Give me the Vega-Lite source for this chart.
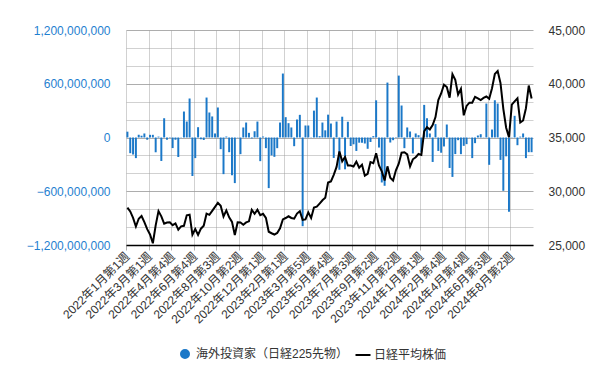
{
"$schema": "https://vega.github.io/schema/vega-lite/v6.json",
"width": 407, "height": 215,
"autosize": {"type": "none"},
"padding": {"left": 126, "top": 30, "right": 82, "bottom": 135},
"background": "white",
"config": {"font": "Liberation Sans, Noto Sans CJK JP, sans-serif", "view": {"stroke": null}},
"data": {"values": [
{"w":"2022年1月第1週","f":65000000,"n":28478},
{"w":"2022年1月第2週","f":-175000000,"n":28124},
{"w":"2022年1月第3週","f":-190000000,"n":27522},
{"w":"2022年1月第4週","f":-230000000,"n":26717},
{"w":"2022年2月第1週","f":30000000,"n":27440},
{"w":"2022年2月第2週","f":20000000,"n":27696},
{"w":"2022年2月第3週","f":45000000,"n":27122},
{"w":"2022年2月第4週","f":-25000000,"n":26476},
{"w":"2022年3月第1週","f":30000000,"n":25985},
{"w":"2022年3月第2週","f":30000000,"n":25163},
{"w":"2022年3月第3週","f":-165000000,"n":26827},
{"w":"2022年3月第4週","f":10000000,"n":28150},
{"w":"2022年3月第5週","f":-262000000,"n":27666},
{"w":"2022年4月第1週","f":215000000,"n":26986},
{"w":"2022年4月第2週","f":-25000000,"n":27093},
{"w":"2022年4月第3週","f":5000000,"n":27105},
{"w":"2022年4月第4週","f":-118000000,"n":26848},
{"w":"2022年5月第1週","f":-25000000,"n":27004},
{"w":"2022年5月第2週","f":-218000000,"n":26428},
{"w":"2022年5月第3週","f":3000000,"n":26739},
{"w":"2022年5月第4週","f":290000000,"n":26782},
{"w":"2022年6月第1週","f":178000000,"n":27762},
{"w":"2022年6月第2週","f":435000000,"n":27824},
{"w":"2022年6月第3週","f":-430000000,"n":25963},
{"w":"2022年6月第4週","f":-230000000,"n":26491},
{"w":"2022年6月第5週","f":115000000,"n":25936},
{"w":"2022年7月第1週","f":-20000000,"n":26517},
{"w":"2022年7月第2週","f":-28000000,"n":26788},
{"w":"2022年7月第3週","f":446000000,"n":27915},
{"w":"2022年7月第4週","f":279000000,"n":27802},
{"w":"2022年8月第1週","f":235000000,"n":28176},
{"w":"2022年8月第2週","f":45000000,"n":28547},
{"w":"2022年8月第3週","f":335000000,"n":28930},
{"w":"2022年8月第4週","f":-130000000,"n":28642},
{"w":"2022年8月第5週","f":-409000000,"n":27651},
{"w":"2022年9月第1週","f":11000000,"n":28215},
{"w":"2022年9月第2週","f":-164000000,"n":27568},
{"w":"2022年9月第3週","f":-422000000,"n":27154},
{"w":"2022年9月第4週","f":-509000000,"n":25937},
{"w":"2022年10月第1週","f":3000000,"n":27116},
{"w":"2022年10月第2週","f":-186000000,"n":27091},
{"w":"2022年10月第3週","f":112000000,"n":26891},
{"w":"2022年10月第4週","f":167000000,"n":27105},
{"w":"2022年11月第1週","f":52000000,"n":27200},
{"w":"2022年11月第2週","f":-10000000,"n":28264},
{"w":"2022年11月第3週","f":71000000,"n":27900},
{"w":"2022年11月第4週","f":178000000,"n":28283},
{"w":"2022年11月第5週","f":-264000000,"n":27778},
{"w":"2022年12月第1週","f":11000000,"n":27901},
{"w":"2022年12月第2週","f":-119000000,"n":27527},
{"w":"2022年12月第3週","f":-565000000,"n":26235},
{"w":"2022年12月第4週","f":-200000000,"n":26095},
{"w":"2023年1月第1週","f":-216000000,"n":25974},
{"w":"2023年1月第2週","f":-119000000,"n":26120},
{"w":"2023年1月第3週","f":167000000,"n":26554},
{"w":"2023年1月第4週","f":714000000,"n":27383},
{"w":"2023年2月第1週","f":227000000,"n":27510},
{"w":"2023年2月第2週","f":160000000,"n":27671},
{"w":"2023年2月第3週","f":112000000,"n":27514},
{"w":"2023年2月第4週","f":-97000000,"n":27454},
{"w":"2023年3月第1週","f":201000000,"n":27927},
{"w":"2023年3月第2週","f":253000000,"n":28144},
{"w":"2023年3月第3週","f":-990000000,"n":27334},
{"w":"2023年3月第4週","f":134000000,"n":27385},
{"w":"2023年3月第5週","f":134000000,"n":28041},
{"w":"2023年4月第1週","f":3000000,"n":27518},
{"w":"2023年4月第2週","f":300000000,"n":28493},
{"w":"2023年4月第3週","f":446000000,"n":28564},
{"w":"2023年4月第4週","f":15000000,"n":28856},
{"w":"2023年5月第1週","f":167000000,"n":29158},
{"w":"2023年5月第2週","f":80000000,"n":29388},
{"w":"2023年5月第3週","f":255000000,"n":30808},
{"w":"2023年5月第4週","f":156000000,"n":30916},
{"w":"2023年5月第5週","f":-228000000,"n":31524},
{"w":"2023年6月第1週","f":178000000,"n":32265},
{"w":"2023年6月第2週","f":-360000000,"n":33706},
{"w":"2023年6月第3週","f":232000000,"n":32782},
{"w":"2023年6月第4週","f":-355000000,"n":33189},
{"w":"2023年7月第1週","f":176000000,"n":32389},
{"w":"2023年7月第2週","f":-95000000,"n":32391},
{"w":"2023年7月第3週","f":-76000000,"n":32304},
{"w":"2023年7月第4週","f":-150000000,"n":32759},
{"w":"2023年8月第1週","f":-58000000,"n":32193},
{"w":"2023年8月第2週","f":-58000000,"n":32474},
{"w":"2023年8月第3週","f":-67000000,"n":31451},
{"w":"2023年8月第4週","f":-126000000,"n":31625},
{"w":"2023年8月第5週","f":-50000000,"n":32711},
{"w":"2023年9月第1週","f":15000000,"n":32607},
{"w":"2023年9月第2週","f":415000000,"n":33534},
{"w":"2023年9月第3週","f":-112000000,"n":32402},
{"w":"2023年9月第4週","f":-502000000,"n":31858},
{"w":"2023年10月第1週","f":-539000000,"n":30995},
{"w":"2023年10月第2週","f":613000000,"n":32316},
{"w":"2023年10月第3週","f":-56000000,"n":31260},
{"w":"2023年10月第4週","f":-30000000,"n":30992},
{"w":"2023年11月第1週","f":5000000,"n":31950},
{"w":"2023年11月第2週","f":691000000,"n":32568},
{"w":"2023年11月第3週","f":357000000,"n":33586},
{"w":"2023年11月第4週","f":-119000000,"n":33626},
{"w":"2023年11月第5週","f":112000000,"n":33432},
{"w":"2023年12月第1週","f":67000000,"n":32308},
{"w":"2023年12月第2週","f":-178000000,"n":32971},
{"w":"2023年12月第3週","f":45000000,"n":33170},
{"w":"2023年12月第4週","f":26000000,"n":33464},
{"w":"2024年1月第1週","f":-164000000,"n":33378},
{"w":"2024年1月第2週","f":364000000,"n":35578},
{"w":"2024年1月第3週","f":216000000,"n":35964},
{"w":"2024年1月第4週","f":45000000,"n":35752},
{"w":"2024年1月第5週","f":-273000000,"n":36158},
{"w":"2024年2月第1週","f":150000000,"n":36898},
{"w":"2024年2月第2週","f":-150000000,"n":38488},
{"w":"2024年2月第3週","f":-170000000,"n":39099},
{"w":"2024年2月第4週","f":-100000000,"n":39911},
{"w":"2024年3月第1週","f":145000000,"n":39689},
{"w":"2024年3月第2週","f":-340000000,"n":38708},
{"w":"2024年3月第3週","f":-440000000,"n":40889},
{"w":"2024年3月第4週","f":-185000000,"n":40369},
{"w":"2024年4月第1週","f":-30000000,"n":38992},
{"w":"2024年4月第2週","f":-186000000,"n":39524},
{"w":"2024年4月第3週","f":-93000000,"n":37068},
{"w":"2024年4月第4週","f":-74000000,"n":37935},
{"w":"2024年5月第1週","f":3000000,"n":38236},
{"w":"2024年5月第2週","f":-230000000,"n":38229},
{"w":"2024年5月第3週","f":-63000000,"n":38787},
{"w":"2024年5月第4週","f":22000000,"n":38647},
{"w":"2024年5月第5週","f":37000000,"n":38488},
{"w":"2024年6月第1週","f":3000000,"n":38684},
{"w":"2024年6月第2週","f":379000000,"n":38815},
{"w":"2024年6月第3週","f":-305000000,"n":38597},
{"w":"2024年6月第4週","f":89000000,"n":39583},
{"w":"2024年7月第1週","f":416000000,"n":40913},
{"w":"2024年7月第2週","f":379000000,"n":41191},
{"w":"2024年7月第3週","f":-250000000,"n":40064},
{"w":"2024年7月第4週","f":-595000000,"n":37668},
{"w":"2024年7月第5週","f":-210000000,"n":35910},
{"w":"2024年8月第1週","f":-829000000,"n":35025},
{"w":"2024年8月第2週","f":3000000,"n":38063},
{"w":"2024年8月第3週","f":242000000,"n":38364},
{"w":"2024年8月第4週","f":-86000000,"n":38648},
{"w":"2024年9月第1週","f":10000000,"n":36392},
{"w":"2024年9月第2週","f":45000000,"n":36581},
{"w":"2024年9月第3週","f":-230000000,"n":37724},
{"w":"2024年9月第4週","f":-164000000,"n":39830},
{"w":"2024年10月第1週","f":-164000000,"n":38636}
]},
"encoding": {
  "x": {"field": "w", "type": "nominal", "sort": null,
    "scale": {"paddingInner": 0.3, "paddingOuter": 0.15},
    "axis": {"title": null, "values": ["2022年1月第1週","2022年3月第1週","2022年4月第4週","2022年6月第4週","2022年8月第3週","2022年10月第2週","2022年12月第1週","2023年2月第1週","2023年3月第5週","2023年5月第4週","2023年7月第3週","2023年9月第2週","2023年11月第2週","2024年1月第1週","2024年2月第4週","2024年4月第4週","2024年6月第3週","2024年8月第2週"],
      "bandPosition": 0, "grid": true, "gridColor": "#999999", "gridWidth": 1, "gridOpacity": 0.45, "zindex": 0,
      "labelAngle": -45, "labelAlign": "right", "labelBaseline": "middle", "labelFontSize": 12, "labelColor": "#333333",
      "labelPadding": 4, "labelOverlap": false, "labelBound": false, "labelFlush": false,
      "domainColor": "#000000", "domainWidth": 1.5, "tickColor": "#b0b0b0", "tickSize": 5}}
},
"layer": [
  {"mark": {"type": "bar", "color": "#1b78c8"},
   "encoding": {
     "y": {"field": "f", "type": "quantitative", "scale": {"domain": [-1200000000, 1200000000], "nice": false, "zero": true},
       "axis": {"title": null, "orient": "left", "grid": true, "zindex": 0, "gridColor": "#999999",
         "gridOpacity": {"condition": {"test": "datum.value % 600000000 === 0", "value": 0.8}, "value": 0.45},
         "values": [-1200000000,-1000000000,-800000000,-600000000,-400000000,-200000000,0,200000000,400000000,600000000,800000000,1000000000,1200000000],
         "labelExpr": "datum.value % 600000000 === 0 ? format(datum.value, ',') : ''",
         "labelColor": "#1f7fd0", "labelFontSize": 12, "ticks": false, "domain": false, "labelPadding": 16}},
     "color": {"datum": "海外投資家（日経225先物）", "type": "nominal",
       "scale": {"domain": ["海外投資家（日経225先物）", "日経平均株価"], "range": ["#1b78c8", "#000000"]},
       "legend": {"title": null, "orient": "none", "legendX": 53, "legendY": 318, "direction": "horizontal",
         "labelFontSize": 12, "labelColor": "#333333", "labelOffset": 5, "columnPadding": 2, "padding": 0,
         "symbolSize": 64, "symbolStrokeWidth": 2,
         "encode": {"symbols": {"update": {
           "shape": {"signal": "datum.value === '日経平均株価' ? 'stroke' : 'circle'"},
           "size": {"signal": "datum.value === '日経平均株価' ? 225 : 64"},
           "fill": {"signal": "datum.value === '日経平均株価' ? 'transparent' : '#1b78c8'"},
           "stroke": {"signal": "datum.value === '日経平均株価' ? '#000000' : 'transparent'"},
           "strokeWidth": {"value": 2}, "opacity": {"value": 1}, "fillOpacity": {"value": 1}}}}}}
   }},
  {"mark": {"type": "line", "color": "#000000", "strokeWidth": 2},
   "encoding": {
     "y": {"field": "n", "type": "quantitative", "scale": {"domain": [25000, 45000], "nice": false, "zero": false},
       "axis": {"title": null, "orient": "right", "values": [25000, 30000, 35000, 40000, 45000], "format": ",d",
         "grid": false, "ticks": false, "domain": false, "labelColor": "#333333", "labelFontSize": 12, "labelPadding": 15}},
     "color": {"datum": "日経平均株価", "type": "nominal"}
   }}
],
"resolve": {"scale": {"y": "independent", "color": "shared"}}
}
